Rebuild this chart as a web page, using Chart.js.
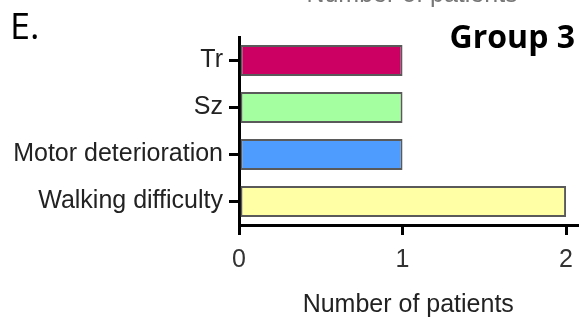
<!DOCTYPE html>
<html>
<head>
<meta charset="utf-8">
<script src="https://cdn.jsdelivr.net/npm/chart.js@4"></script>
<style>
  html, body { margin: 0; padding: 0; background: #fff; }
  #chart { display: block; }
</style>
</head>
<body>
<canvas id="chart" width="583" height="320"></canvas>
<script>
var categories = ['Tr', 'Sz', 'Motor deterioration', 'Walking difficulty'];
var patients = [1, 1, 1, 2];
var barColors = ['#cc0062', '#a3ffa0', '#4f9cff', '#ffffa6'];
var xTicks = [0, 1, 2];

var labelFont = "'Liberation Sans', Arial, sans-serif";

// panel letter, group name and the cut-off title of the panel above
var extraText = {
    id: 'extraText',
    afterDraw: function (chart) {
        var c = chart.ctx;
        c.save();
        c.fillStyle = '#000';
        c.textBaseline = 'alphabetic';
        c.textAlign = 'left';
        c.font = "36px 'Open Sans', sans-serif";
        c.fillText('E.', 10, 39);
        c.font = "bold 32px 'Open Sans', sans-serif";
        c.textAlign = 'right';
        c.fillText('Group 3', 575, 48);
        c.fillStyle = '#777';
        c.textAlign = 'center';
        c.font = "25px " + labelFont;
        c.fillText('Number of patients', 412, 2);
        c.restore();
    }
};

var ctx = document.getElementById('chart').getContext('2d');
var myChart = new Chart(ctx, {
    type: 'bar',
    data: {
        labels: categories,
        datasets: [{
            data: patients,
            backgroundColor: barColors,
            borderColor: '#5a5a5a',
            borderWidth: 2,
            borderSkipped: false,
            barPercentage: 0.66,
            categoryPercentage: 1
        }]
    },
    options: {
        indexAxis: 'y',
        responsive: false,
        animation: false,
        layout: { padding: { top: 37, right: 0, left: 0, bottom: 0 } },
        plugins: { legend: { display: false }, tooltip: { enabled: false } },
        scales: {
            x: {
                min: 0,
                max: 2.07,
                afterBuildTicks: function (scale) {
                    scale.ticks = xTicks.map(function (v) { return { value: v }; });
                },
                afterFit: function (scale) { scale.height = 95; },
                grid: { drawOnChartArea: false, tickLength: 10, lineWidth: 3, color: '#000' },
                border: { width: 3, color: '#000' },
                ticks: { padding: 10, color: '#333', font: { family: labelFont, size: 25 } },
                title: {
                    display: true,
                    text: 'Number of patients',
                    color: '#222',
                    padding: { top: 0, bottom: 0 },
                    font: { family: labelFont, size: 25 }
                }
            },
            y: {
                afterFit: function (scale) { scale.width = 239; },
                grid: { offset: false, drawOnChartArea: false, tickLength: 10, lineWidth: 3, color: '#000' },
                border: { width: 3, color: '#000' },
                ticks: { padding: 6, color: '#222', font: { family: labelFont, size: 25 } }
            }
        }
    },
    plugins: [extraText]
});
</script>
</body>
</html>
